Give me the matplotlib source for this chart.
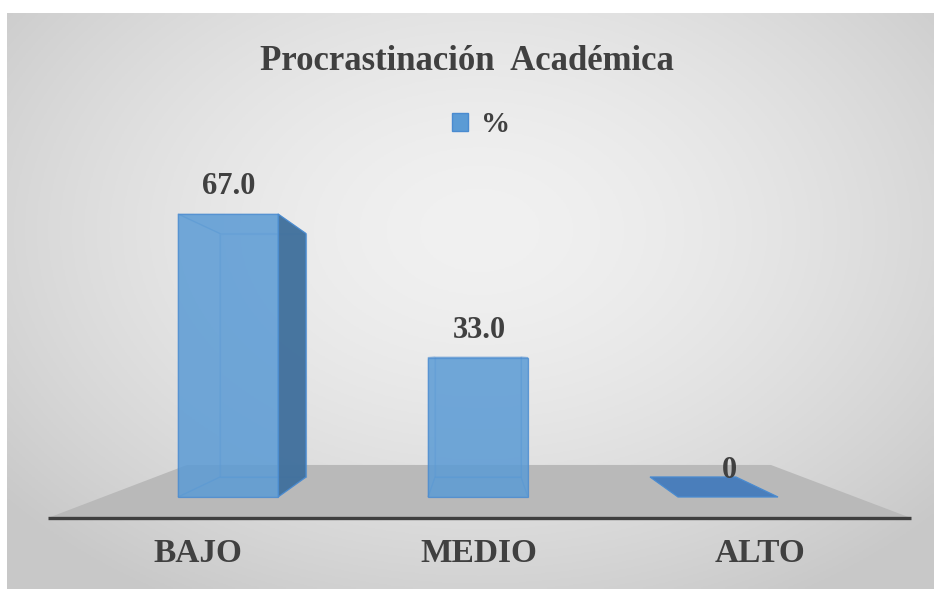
import numpy as np
import matplotlib
matplotlib.use("Agg")
import matplotlib.pyplot as plt
from matplotlib.patches import Polygon, Patch

# Datos
categorias = ["BAJO", "MEDIO", "ALTO"]
porcentajes = [67.0, 33.0, 0.0]
etiquetas = ["67.0", "33.0", "0"]
titulo = "Procrastinación  Académica"
serie = "%"

# Parámetros de la vista 3D (en píxeles de la figura)
W, H = 934, 589
x_centro = 478      # posición del eje de la cámara
paso = 250          # distancia entre categorías
medio_ancho = 50    # semi-ancho de las barras
y_base = 497        # base de las barras en el plano frontal
k = 4.224           # píxeles por punto porcentual
y_ojo = 354         # altura del horizonte
s_frente, s_fondo = 1.0, 0.86
s_suelo_frente, s_suelo_fondo = 1.147, 0.776

azul = "#5b9bd5"
azul_lado = "#41709c"
azul_arriba = "#4a7ebb"
borde = "#4a8bd0"
fuente = "Liberation Serif"
gris_texto = "#404040"


def proyectar(xw, h, s):
    sx = x_centro + (xw - x_centro) * s
    sy = y_ojo + (y_base - k * h - y_ojo) * s
    return (sx, sy)


def x_categoria(i):
    return x_centro + (i - 1) * paso


fig = plt.figure(figsize=(W / 100, H / 100), dpi=100)
fig.patch.set_facecolor("white")
ax = fig.add_axes([0, 0, 1, 1])
ax.set_xlim(0, W)
ax.set_ylim(H, 0)
ax.axis("off")

# Fondo degradado radial
xx, yy = np.meshgrid(np.linspace(7, W, 300), np.linspace(13, H, 200))
r = np.sqrt(((xx - 480) / 620) ** 2 + ((yy - 230) / 430) ** 2)
gris = 0.945 - 0.16 * np.clip(r, 0, 1) ** 1.6
ax.imshow(np.dstack([gris, gris, gris]), extent=(7, W, H, 13), aspect="auto", zorder=0)

# Suelo
x_izq = x_categoria(-0.5)
x_der = x_categoria(2.51)
suelo = [proyectar(x_izq, 0, s_suelo_frente), proyectar(x_der, 0, s_suelo_frente),
         proyectar(x_der, 0, s_suelo_fondo), proyectar(x_izq, 0, s_suelo_fondo)]
ax.add_patch(Polygon(suelo, closed=True, facecolor="#b9b9b9", edgecolor="none", zorder=1))
ax.plot([suelo[0][0], suelo[1][0]], [suelo[0][1], suelo[1][1]], color="#3f3f3f", lw=2.4,
        solid_capstyle="butt", zorder=2)

# Barras
for i, v in enumerate(porcentajes):
    xc = x_categoria(i)
    x0, x1 = xc - medio_ancho, xc + medio_ancho

    def cara(pts, color, alpha, z, lw=0.9):
        ax.add_patch(Polygon([proyectar(*p) for p in pts], closed=True, facecolor=color,
                             edgecolor=borde, lw=lw, alpha=alpha, zorder=z))

    if v > 0:
        # cara trasera, inferior, superior (se ven por transparencia)
        cara([(x0, 0, s_fondo), (x1, 0, s_fondo), (x1, v, s_fondo), (x0, v, s_fondo)], azul, 0.35, 3)
        cara([(x0, 0, s_frente), (x1, 0, s_frente), (x1, 0, s_fondo), (x0, 0, s_fondo)], azul, 0.35, 3)
        cara([(x0, v, s_frente), (x1, v, s_frente), (x1, v, s_fondo), (x0, v, s_fondo)], azul, 0.35, 3)
        # caras laterales
        for xl in (x0, x1):
            visible = (xl == x1 and x1 < x_centro) or (xl == x0 and x0 > x_centro)
            cara([(xl, 0, s_frente), (xl, 0, s_fondo), (xl, v, s_fondo), (xl, v, s_frente)],
                 azul_lado if visible else azul, 0.95 if visible else 0.3, 4)
        # cara frontal
        cara([(x0, 0, s_frente), (x1, 0, s_frente), (x1, v, s_frente), (x0, v, s_frente)], azul, 0.78, 5)
    else:
        cara([(x0, 0, s_frente), (x1, 0, s_frente), (x1, 0, s_fondo), (x0, 0, s_fondo)], azul_arriba, 1.0, 4)

    lx, ly = proyectar(xc, v, s_frente)
    ax.text(lx + 1, ly - 27, etiquetas[i], ha="center", va="center", fontsize=22,
            fontweight="bold", family=fuente, color=gris_texto, zorder=6)

    cx, cy = proyectar(xc, 0, 1.125)
    ax.text(cx + 1, 553, categorias[i], ha="center", va="center", fontsize=24,
            fontweight="bold", family=fuente, color=gris_texto, zorder=6)

# Título y leyenda
ax.text(467, 62, titulo, ha="center", va="center", fontsize=25, fontweight="bold",
        family=fuente, color=gris_texto, zorder=6)
fig.legend(handles=[Patch(facecolor=azul, edgecolor=borde, label=serie)],
           loc="center", bbox_to_anchor=(481 / W, 1 - 125 / H), frameon=False,
           handlelength=0.55, handleheight=0.55, handletextpad=0.45,
           prop={"family": fuente, "weight": "bold", "size": 21}, labelcolor=gris_texto)

fig.savefig("out.png", dpi=100)
